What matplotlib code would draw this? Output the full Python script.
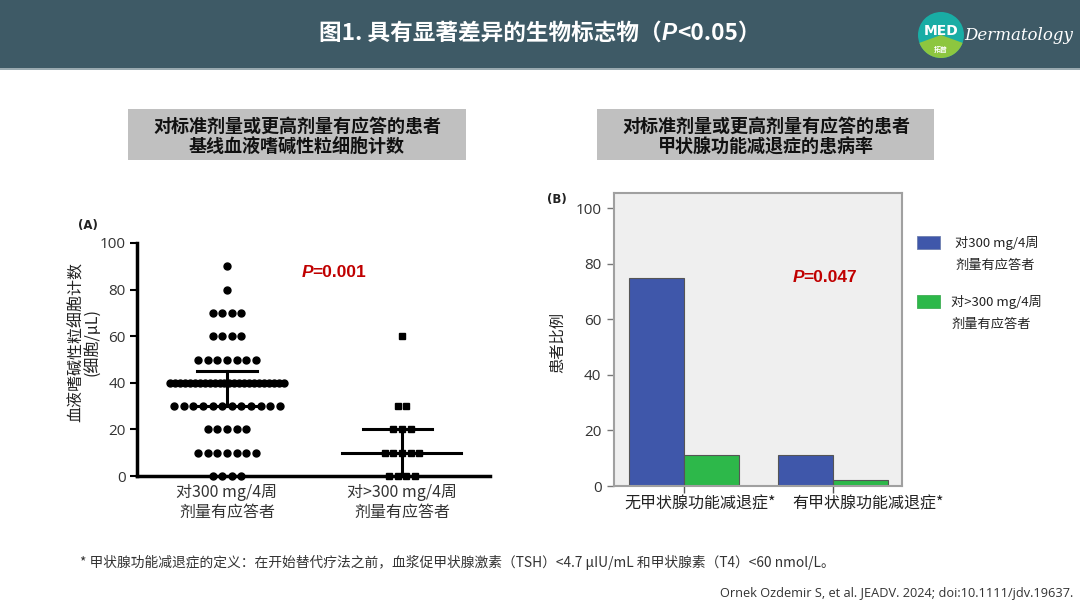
import matplotlib
matplotlib.use("Agg")
import matplotlib.pyplot as plt
from matplotlib.patches import Rectangle, Circle, Wedge
from matplotlib.transforms import blended_transform_factory, offset_copy
import numpy as np

plt.rcParams['font.family'] = ['Noto Sans CJK SC', 'DejaVu Sans']

# ---------------- data ----------------
title_main = "图1. 具有显著差异的生物标志物（"
title_p = "P"
title_end = "<0.05）"

panel_a_title = ["对标准剂量或更高剂量有应答的患者", "基线血液嗜碱性粒细胞计数"]
panel_b_title = ["对标准剂量或更高剂量有应答的患者", "甲状腺功能减退症的患病率"]

group_labels = ["对300 mg/4周\n剂量有应答者", "对>300 mg/4周\n剂量有应答者"]

# panel A: dot plot (value levels and number of patients at each level)
levels_a = [90, 80, 70, 60, 50, 40, 30, 20, 10, 0]
counts_a = [1, 1, 4, 4, 7, 24, 12, 5, 7, 4]
levels_b = [60, 30, 20, 10, 0]
counts_b = [1, 2, 3, 5, 4]
center_a, lo_a, hi_a = 40, 30, 45
center_b, lo_b, hi_b = 10, 0, 20
p_a = "=0.001"
yticks_a = [0, 20, 40, 60, 80, 100]
ylabel_a = "血液嗜碱性粒细胞计数\n(细胞/μL)"

# panel B: bar chart
categories_b = ["无甲状腺功能减退症*", "有甲状腺功能减退症*"]
std_dose = [75, 11]
high_dose = [11, 2]
legend_labels = ["对300 mg/4周\n剂量有应答者", "对>300 mg/4周\n剂量有应答者"]
p_b = "=0.047"
yticks_b = [0, 20, 40, 60, 80, 100]
ylabel_b = "患者比例"

footnote = "* 甲状腺功能减退症的定义：在开始替代疗法之前，血浆促甲状腺激素（TSH）<4.7 μIU/mL 和甲状腺素（T4）<60 nmol/L。"
citation = "Ornek Ozdemir S, et al. JEADV. 2024; doi:10.1111/jdv.19637."

BLUE = "#3f57aa"
GREEN = "#2db84a"

# ---------------- figure ----------------
W, H = 1080, 608
fig = plt.figure(figsize=(W / 100, H / 100), dpi=100)
fig.patch.set_facecolor("white")

def fx(x):
    return x / W

def fy(y):
    return 1 - y / H

def add_axes_px(x0, y0, x1, y1, **kw):
    return fig.add_axes([fx(x0), fy(y1), (x1 - x0) / W, (y1 - y0) / H], **kw)

# background layer in pixel coordinates
bg = fig.add_axes([0, 0, 1, 1], zorder=-10)
bg.set_xlim(0, W)
bg.set_ylim(H, 0)
bg.axis("off")
bg.add_patch(Rectangle((0, 0), W, 68, color="#3e5a66", lw=0))
bg.add_patch(Rectangle((0, 68), W, 2, color="#9aaab0", lw=0))
bg.add_patch(Rectangle((128, 109), 338, 51, color="#c0c0c0", lw=0))
bg.add_patch(Rectangle((597, 109), 337, 51, color="#c0c0c0", lw=0))
# logo
bg.add_patch(Circle((941, 35), 23, color="#19ada5", lw=0))
bg.add_patch(Wedge((941, 35), 23, 20, 160, color="#8dc63f", lw=0))
bg.text(941, 31, "MED", color="white", fontsize=10, fontweight="bold",
        ha="center", va="center", family=["DejaVu Sans"])
bg.text(941, 49, "拓普", color="white", fontsize=5, fontweight="bold",
        ha="center", va="center")
bg.text(1019, 35, "Dermatology", color="white", fontsize=12, style="italic",
        ha="center", va="center", family=["DejaVu Serif"])

# main title with italic P, centred as a whole
tsize = 16.3
parts = [
    (title_main, dict(fontweight="bold")),
    (title_p, dict(fontweight="bold", style="italic", family=["Liberation Sans", "DejaVu Sans"])),
    (title_end, dict(fontweight="bold")),
]
texts = [fig.text(0, fy(33), s, color="white", fontsize=tsize, ha="left",
                  va="center", **kw) for s, kw in parts]
fig.canvas.draw()
r = fig.canvas.get_renderer()
widths = [t.get_window_extent(r).width for t in texts]
x = 540 - sum(widths) / 2
for t, w in zip(texts, widths):
    t.set_x(fx(x))
    x += w

# panel titles
for cx, lines in [(297, panel_a_title), (766, panel_b_title)]:
    fig.text(fx(cx), fy(126), lines[0], fontsize=13, fontweight="bold",
             ha="center", va="center", color="#111111")
    fig.text(fx(cx), fy(147), lines[1], fontsize=13, fontweight="bold",
             ha="center", va="center", color="#111111")

# ---------------- panel A ----------------
axA = add_axes_px(137, 243, 490, 476)
axA.set_xlim(-0.514, 1.503)
axA.set_ylim(0, 100)
for s in ["top", "right"]:
    axA.spines[s].set_visible(False)
for s in ["left", "bottom"]:
    axA.spines[s].set_linewidth(2.5)
    axA.spines[s].set_color("black")
axA.set_xticks([0, 1])
axA.set_xticklabels(group_labels, fontsize=11.5, color="#333333", linespacing=1.2)
axA.tick_params(axis="x", length=0, pad=6)
axA.set_yticks(yticks_a)
axA.set_yticklabels([str(v) for v in yticks_a], fontsize=11, color="#333333",
                    family=["Open Sans", "DejaVu Sans"])
axA.tick_params(axis="y", length=5, width=1.5, direction="out", pad=3)
axA.set_ylabel(ylabel_a, fontsize=11.5, color="#222222", linespacing=1.0)
axA.yaxis.set_label_coords(-0.1, 0.575)

step = 0.055
maxw = 0.65
def row_offsets(n):
    sp = step if (n - 1) * step <= maxw else maxw / (n - 1)
    return (np.arange(n) - (n - 1) / 2) * sp

xs, ys = [], []
for lv, n in zip(levels_a, counts_a):
    xs.extend(0 + row_offsets(n))
    ys.extend([lv] * n)
axA.plot(xs, ys, "o", color="black", ms=5.0, clip_on=False, zorder=3)
xs, ys = [], []
for lv, n in zip(levels_b, counts_b):
    xs.extend(1 + row_offsets(n) * 0.9)
    ys.extend([lv] * n)
axA.plot(xs, ys, "s", color="black", ms=4.8, clip_on=False, zorder=3)

# central line + error bars
lw_e = 2.2
axA.plot([-0.33, 0.34], [center_a, center_a], color="black", lw=lw_e, zorder=4)
axA.plot([0, 0], [lo_a, hi_a], color="black", lw=lw_e, zorder=4)
axA.plot([-0.17, 0.17], [hi_a, hi_a], color="black", lw=lw_e, zorder=4)
axA.plot([-0.17, 0.17], [lo_a, lo_a], color="black", lw=lw_e, zorder=4)
axA.plot([1 - 0.34, 1 + 0.34], [center_b, center_b], color="black", lw=lw_e, zorder=4)
axA.plot([1, 1], [lo_b, hi_b], color="black", lw=lw_e, zorder=4)
axA.plot([1 - 0.22, 1 + 0.17], [hi_b, hi_b], color="black", lw=lw_e, zorder=4)

fig.text(fx(88), fy(225), "(A)", fontsize=8.5, fontweight="bold", ha="center",
         va="center", family=["DejaVu Sans"], color="#222222")
fig.text(fx(313), fy(272), "P", fontsize=12.5, fontweight="bold", style="italic",
         color="#c00000", ha="right", va="center", family=["Liberation Sans"])
fig.text(fx(312), fy(272), p_a, fontsize=12.5, fontweight="bold",
         color="#c00000", ha="left", va="center", family=["Liberation Sans"])

# ---------------- panel B ----------------
axB = add_axes_px(614, 193, 902, 486)
axB.set_facecolor("#efefef")
axB.set_xlim(-0.47, 1.463)
axB.set_ylim(0, 105.4)
for s in axB.spines.values():
    s.set_color("#a0a0a0")
    s.set_linewidth(1.5)
bw = 0.372
xb = np.arange(len(categories_b))
axB.bar(xb - bw / 2, std_dose, width=bw, color=BLUE, edgecolor="#555555",
        linewidth=0.8, zorder=2)
axB.bar(xb + bw / 2, high_dose, width=bw, color=GREEN, edgecolor="#555555",
        linewidth=0.8, zorder=2)
axB.set_xticks(xb)
axB.set_xticklabels([])
axB.tick_params(axis="x", length=5, width=1, color="#555555")
label_shift_px = [16, 35]
trans = blended_transform_factory(axB.transData, axB.transAxes)
for xi, lab, sh in zip(xb, categories_b, label_shift_px):
    axB.text(xi, 0, lab, fontsize=11.5, color="#222222", ha="center", va="top",
             transform=offset_copy(trans, fig=fig, x=sh, y=-9, units="dots"))
axB.set_yticks(yticks_b)
axB.set_yticklabels([str(v) for v in yticks_b], fontsize=11, color="#333333",
                    family=["Open Sans", "DejaVu Sans"])
axB.tick_params(axis="y", length=5, width=1, color="#777777", pad=4)
axB.set_ylabel(ylabel_b, fontsize=11, color="#222222")
axB.yaxis.set_label_coords(-0.165, 0.49)

fig.text(fx(557), fy(200), "(B)", fontsize=8.5, fontweight="bold", ha="center",
         va="center", family=["DejaVu Sans"], color="#222222")
fig.text(fx(804), fy(278), "P", fontsize=12.5, fontweight="bold", style="italic",
         color="#c00000", ha="right", va="center", family=["Liberation Sans"])
fig.text(fx(803), fy(278), p_b, fontsize=12.5, fontweight="bold",
         color="#c00000", ha="left", va="center", family=["Liberation Sans"])

# legend (outside right, drawn as patches + text)
leg_rows = [(BLUE, legend_labels[0], 236, 955), (GREEN, legend_labels[1], 295, 951)]
for col, lab, ytop, xt in leg_rows:
    bg.add_patch(Rectangle((917, ytop), 23, 13, facecolor=col, edgecolor="#6f7fb0" if col == BLUE else "#3fae55", lw=0.6))
    l1, l2 = lab.split("\n")
    bg.text(xt, ytop + 7, l1, fontsize=9.5, color="#222222", ha="left", va="center")
    bg.text(xt, ytop + 29, l2, fontsize=9.5, color="#222222", ha="left", va="center")

# footnote & citation
fig.text(fx(80), fy(562), footnote, fontsize=9.9, color="#333333",
         ha="left", va="center")
fig.text(fx(1073), fy(594), citation, fontsize=9.2, color="#333333",
         ha="right", va="center", family=["Open Sans", "DejaVu Sans"])

fig.savefig("out.png", dpi=100, facecolor="white")
